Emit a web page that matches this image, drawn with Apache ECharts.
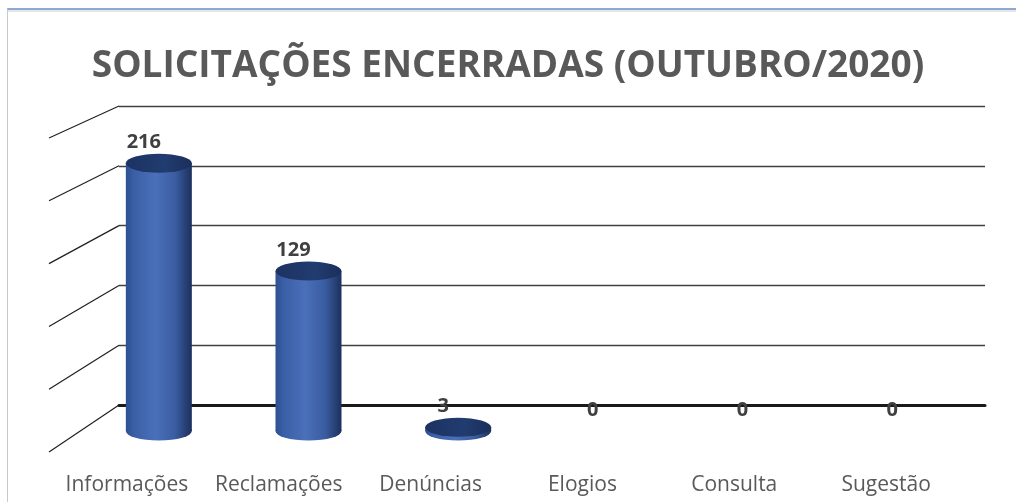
<!DOCTYPE html>
<html>
<head>
<meta charset="utf-8">
<script src="https://cdn.jsdelivr.net/npm/echarts@6/dist/echarts.min.js"></script>
<style>
  html, body { margin: 0; padding: 0; background: #fff; }
  #wrap { position: relative; width: 1016px; height: 502px; overflow: hidden; }
  /* borda da área do gráfico (estilo Excel) */
  #frame {
    position: absolute; left: 7px; top: 8px; width: 1020px; height: 500px;
    border-top: 2px solid #8ea8d4; border-left: 1px solid #c6c9cf;
    box-shadow: inset 0 2px 0 #e4e6ea;
  }
  #main { position: absolute; left: 0; top: 0; width: 1016px; height: 502px; }
</style>
</head>
<body>
<div id="wrap">
  <div id="frame"></div>
  <div id="main"></div>
</div>
<script>
// dados
var titulo = 'SOLICITAÇÕES ENCERRADAS (OUTUBRO/2020)'
var categorias = ['Informações', 'Reclamações', 'Denúncias', 'Elogios', 'Consulta', 'Sugestão']
var valores = [216, 129, 3, 0, 0, 0]
var eixoMax = 250
var eixoPasso = 50
var linhasGrade = [0, 50, 100, 150, 200, 250]

// profundidade do "piso" 3D
var DEPTH_X = 70
var DEPTH_Y = 32
var PERSP = 15

var corpo = new echarts.graphic.LinearGradient(0, 0, 1, 0, [
    { offset: 0, color: '#2d4f92' },
    { offset: 0.12, color: '#3b5fa6' },
    { offset: 0.45, color: '#4a70ba' },
    { offset: 0.75, color: '#3a5ca1' },
    { offset: 1, color: '#1c305c' }
])
var tampa = new echarts.graphic.LinearGradient(0, 0, 1, 0, [
    { offset: 0, color: '#1c3362' },
    { offset: 0.6, color: '#213c70' },
    { offset: 1, color: '#1a2f5a' }
])

var myChart = echarts.init(document.getElementById('main'), null, { renderer: 'canvas' })

var option = {
    backgroundColor: 'transparent',
    animation: false,
    title: {
        text: titulo,
        left: 'center',
        top: 43,
        textStyle: {
            fontFamily: 'Open Sans',
            fontWeight: 'bold',
            fontSize: 37,
            color: '#595959'
        }
    },
    grid: [
        // parede do fundo
        { left: 119, right: 31, top: 106, bottom: 97 },
        // cilindros
        { left: 84, right: 34, top: 121, bottom: 71 },
        // rótulos das categorias
        { left: 51, right: 54, top: 120, bottom: 32 }
    ],
    xAxis: [
        {
            gridIndex: 0, type: 'value', min: 0, max: 1,
            axisLabel: { show: false }, axisTick: { show: false }, splitLine: { show: false },
            axisLine: { show: true, lineStyle: { color: '#1a1a1a', width: 3 } }
        },
        {
            gridIndex: 1, type: 'category', data: categorias, show: false
        },
        {
            gridIndex: 2, type: 'category', data: categorias,
            axisLine: { show: false }, axisTick: { show: false },
            axisLabel: {
                interval: 0,
                margin: 4,
                fontFamily: 'Open Sans',
                fontSize: 21,
                lineHeight: 22,
                color: '#595959'
            }
        }
    ],
    yAxis: [
        {
            gridIndex: 0, type: 'value', min: 0, max: eixoMax, interval: eixoPasso,
            axisLabel: { show: false }, axisTick: { show: false }, axisLine: { show: false },
            splitLine: { show: true, lineStyle: { color: '#404040', width: 1.3 } }
        },
        { gridIndex: 1, type: 'value', min: 0, max: eixoMax, show: false, splitLine: { show: false } },
        { gridIndex: 2, type: 'value', show: false, splitLine: { show: false } }
    ],
    series: [
        {
            // linhas diagonais do piso/parede lateral
            type: 'custom',
            xAxisIndex: 0,
            yAxisIndex: 0,
            data: linhasGrade.map(function (v) { return [0, v] }),
            renderItem: function (params, api) {
                var v = api.value(1)
                var p = api.coord([0, v])
                var t = (eixoMax - v) / eixoMax
                return {
                    type: 'line',
                    shape: {
                        x1: p[0], y1: p[1],
                        x2: p[0] - DEPTH_X, y2: p[1] + DEPTH_Y + PERSP * t
                    },
                    style: { stroke: '#1f1f1f', lineWidth: 1.2 }
                }
            },
            silent: true,
            z: 1
        },
        {
            // base do cilindro
            type: 'pictorialBar',
            xAxisIndex: 1,
            yAxisIndex: 1,
            symbol: 'circle',
            symbolSize: [66, 19],
            symbolOffset: [0, '50%'],
            data: valores.map(function (v) { return v > 0 ? v : '-' }),
            itemStyle: { color: corpo },
            z: 3
        },
        {
            // corpo do cilindro
            type: 'bar',
            xAxisIndex: 1,
            yAxisIndex: 1,
            barWidth: 66,
            data: valores,
            itemStyle: { color: corpo },
            label: {
                show: true,
                position: 'top',
                distance: 11,
                offset: [-15, 0],
                fontFamily: 'Open Sans',
                fontWeight: 'bold',
                fontSize: 20,
                lineHeight: 20,
                color: '#404040'
            },
            z: 4
        },
        {
            // tampa do cilindro
            type: 'pictorialBar',
            xAxisIndex: 1,
            yAxisIndex: 1,
            symbol: 'circle',
            symbolSize: [66, 19],
            symbolPosition: 'end',
            symbolOffset: [0, '-50%'],
            data: valores.map(function (v) { return v > 0 ? v : '-' }),
            itemStyle: { color: tampa },
            z: 5
        }
    ]
}
myChart.setOption(option)
</script>
</body>
</html>
